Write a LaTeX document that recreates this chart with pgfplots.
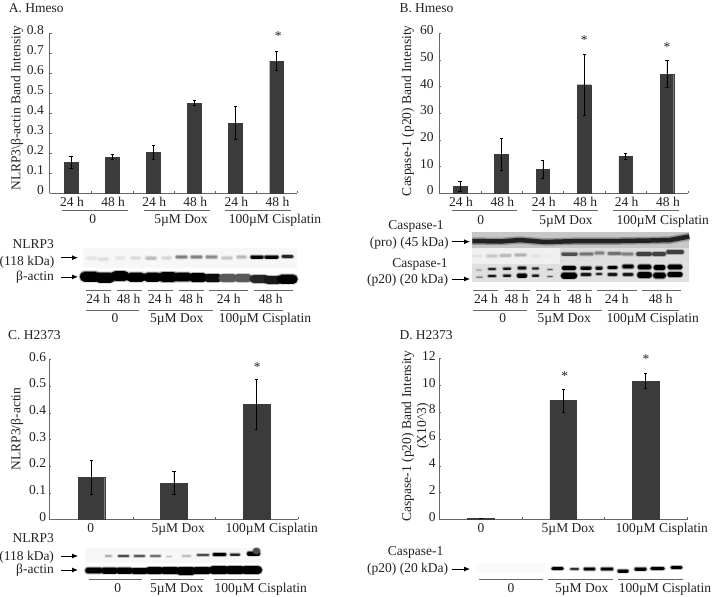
\documentclass[border=0pt]{standalone}
\usepackage{fontspec}
\setmainfont{Liberation Serif}
\usepackage{pgfplots}
\usetikzlibrary{arrows.meta}
\pgfplotsset{compat=1.18}
\definecolor{txt}{gray}{0.13}
\definecolor{barcol}{gray}{0.23}
\definecolor{axisg}{gray}{0.4}
\newcommand{\fs}{\fontsize{13.5}{15}\selectfont}
% soft western blot band: x1 x2 y thickness darkness
\newcommand{\band}[5]{%
  \addplot[forget plot, line cap=round, black!#5, opacity=0.12, line width=#4pt+2.6pt] coordinates {(#1,#3)(#2,#3)};
  \addplot[forget plot, line cap=round, black!#5, opacity=0.22, line width=#4pt+1.7pt] coordinates {(#1,#3)(#2,#3)};
  \addplot[forget plot, line cap=round, black!#5, opacity=0.4, line width=#4pt+0.8pt] coordinates {(#1,#3)(#2,#3)};
  \addplot[forget plot, line cap=round, black!#5, line width=#4pt] coordinates {(#1,#3)(#2,#3)};
}
\newcommand{\patch}[5]{%
  \addplot[forget plot, fill=black!#5, draw=none] coordinates {(#1,#3)(#2,#3)(#2,#4)(#1,#4)} --cycle;
}
\newcommand{\uline}[3]{%
  \addplot[forget plot, axisg, line width=0.7pt] coordinates {(#1,#3)(#2,#3)};
}
\newcommand{\arr}[3]{%
  \addplot[forget plot, black, line width=0.8pt, -{Latex[length=6pt,width=5pt]}] coordinates {(#1,#3)(#2,#3)};
}
% text centred on its capital height, so descenders do not move it
\newcommand{\lab}[3]{\node[text height=8.8pt, text depth=0pt] at (#1,#2) {#3};}
\pgfplotsset{
  panel/.style={
    scale only axis, anchor=south west, clip=false,
    axis lines=left, axis line style={-, axisg, line width=0.8pt},
    ymin=0, enlargelimits=false,
    major tick length=2pt, minor tick length=2pt,
    tick align=inside,
    y tick style={axisg}, major x tick style={draw=none}, minor x tick style={axisg},
    tick label style={font=\fs, text=txt},
    /pgf/number format/assume math mode=true,
    /pgf/number format/fixed,
    xtick=data,
  },
  barplot/.style={
    ybar, forget plot, fill=barcol, draw=barcol, bar width=#1,
    error bars/.cd, y dir=both, y explicit,
    error bar style={black, line width=0.6pt},
    error mark options={rotate=90, mark size=1.6pt, black, line width=0.6pt},
  },
}
\begin{document}
\begin{tikzpicture}[every node/.append style={font=\fs, text=txt, inner sep=0pt}]
\path[use as bounding box] (0,0) rectangle (713pt,-597pt);

% everything that is not a bar chart, in image pixels
\begin{axis}[scale only axis, width=713pt, height=597pt, at={(0,0)}, anchor=north west,
             xmin=0, xmax=713, ymin=0, ymax=597, y dir=reverse, hide axis, clip=false]
\node[anchor=west, text height=8.8pt, text depth=0pt] at (8.7,8) {A. Hmeso};
\node[anchor=west, text height=8.8pt, text depth=0pt] at (399.3,8) {B. Hmeso};
\node[anchor=west, text height=8.8pt, text depth=0pt] at (8,334.7) {C. H2373};
\node[anchor=west, text height=8.8pt, text depth=0pt] at (399.3,334.7) {D. H2373};

% y labels
\node[rotate=90, text height=8.8pt, text depth=0pt] at (16,108) {NLRP3\textbackslash β-actin Band Intensity};
\node[rotate=90, text height=8.8pt, text depth=0pt] at (406.7,110.7) {Caspase-1 (p20) Band Intensity};
\node[rotate=90, text height=8.8pt, text depth=0pt] at (16,429) {NLRP3/β-actin};
\node[rotate=90, text height=8.8pt, text depth=0pt] at (406.7,436) {Caspase-1 (p20) Band Intensity};
\node[rotate=90, text height=8.8pt, text depth=0pt] at (421.7,426) {(X10\^{}3)};

% stars
\node at (278.3,36) {*};
\node at (584.3,40.5) {*};
\node at (667,47) {*};
\node at (257.3,367) {*};
\node at (564.7,376) {*};
\node at (646,359.5) {*};

% group labels under charts A and B
\uline{62}{128}{210.5}\uline{144}{210}{210.5}\uline{225}{291}{210.5}
\lab{92.7}{219.5}{0}\lab{181}{219.5}{5µM Dox}\lab{275}{219.5}{100µM Cisplatin}
\uline{451.7}{516.7}{210.7}\uline{532}{598}{210.7}\uline{613.3}{679.3}{210.7}
\lab{480.7}{219.7}{0}\lab{566}{219.7}{5µM Dox}\lab{662.7}{219.7}{100µM Cisplatin}

% labels under charts C and D
\lab{90.7}{528.3}{0}\lab{178.3}{528.3}{5µM Dox}\lab{271.7}{528.3}{100µM Cisplatin}
\lab{481}{528.3}{0}\lab{568.3}{528.3}{5µM Dox}\lab{661.7}{528.3}{100µM Cisplatin}

% blot A
\patch{83}{297}{248}{268}{3}
\band{88}{95}{258}{3}{10}\band{100}{107}{259}{3}{12}\band{117}{123}{258}{3}{10}\band{132}{139}{258}{2.5}{14}
\band{147}{155}{258}{3}{25}\band{163}{170}{258}{2.5}{16}\band{177}{186}{257}{2.5}{50}\band{192}{201}{257}{2.5}{50}
\band{207}{216}{257}{2.5}{45}\band{223}{231}{258}{2.5}{22}\band{238}{245}{257}{2.5}{28}\band{252}{262}{257}{3}{100}
\band{266}{277}{257}{3}{100}\band{283}{292}{256.5}{2.5}{85}
\band{85}{95}{276.5}{10}{100}\band{100}{110}{277.5}{10}{100}\band{116}{124}{276}{10}{100}\band{131}{141}{277}{9}{100}
\band{148}{157}{277}{9}{100}\band{163}{173}{277}{10}{100}\band{178}{188}{277}{8.5}{100}\band{193}{203}{277.5}{8.5}{100}
\band{208}{218}{278}{8}{95}\band{223}{233}{278}{8}{65}\band{238}{248}{278}{8}{65}\band{254}{265}{279}{8}{85}
\band{268}{278}{280}{8}{90}\band{282}{293}{279}{9}{100}
\lab{33.3}{244}{NLRP3}\lab{27}{260.7}{(118 kDa)}\lab{35}{276}{β-actin}
\arr{61}{78}{257.7}\arr{61}{78}{276.9}
\uline{86}{110.7}{290}\uline{117.3}{142}{290}\uline{148.3}{173}{290}\uline{179.3}{204}{290}\uline{209.3}{248.3}{290}\uline{254}{292.7}{290}
\lab{98.3}{299}{24 h}\lab{128.7}{299}{48 h}\lab{160}{299}{24 h}\lab{191.3}{299}{48 h}\lab{228.7}{299}{24 h}\lab{270.7}{299}{48 h}
\uline{86}{138.7}{310}\uline{148}{213}{310}\uline{220}{283}{310}
\lab{115}{318.3}{0}\lab{176.7}{318.3}{5µM Dox}\lab{265}{318.3}{100µM Cisplatin}

% blot B
\patch{472.3}{689.3}{231.7}{248}{22}
\patch{472.3}{689.3}{248}{262}{13}
\patch{472.3}{689.3}{262}{281.7}{12}
\patch{472.3}{560}{248}{264}{6}
\addplot[forget plot, black!85, line width=4.5pt] coordinates {(472.3,241)(500,241.5)(520,240)(545,242)(580,241)(620,241)(650,240.5)(670,240)(689.3,236.5)};
\addplot[forget plot, black!90, opacity=0.3, line width=7.5pt] coordinates {(472.3,241)(500,241.5)(520,240)(545,242)(580,241)(620,241)(650,240.5)(670,240)(689.3,236.5)};
\band{474}{481}{256}{2}{12}\band{488}{496}{256}{2.5}{22}\band{501}{510}{255.5}{2.5}{26}\band{516}{525}{255}{2.5}{30}
\band{532}{540}{256}{2}{12}\band{546}{553}{256}{2}{8}\band{563}{576}{254}{3}{70}\band{581}{592}{254}{2.5}{55}
\band{596}{603}{253}{2.5}{50}\band{609}{620}{253.5}{2.5}{55}\band{623}{632}{254}{2.5}{50}\band{638}{650}{254}{3.5}{75}
\band{654}{664}{254}{3.5}{75}\band{668}{682}{252}{3.5}{75}
\band{477}{481}{270}{1}{35}\band{489}{495}{269}{1.5}{85}\band{504}{510}{268.5}{2}{90}\band{519}{525}{268}{2.5}{95}
\band{533}{538}{268.5}{1.5}{90}\band{548}{552}{269.5}{1}{65}\band{564}{574}{268}{4}{100}\band{582}{590}{268}{3}{100}
\band{597}{601}{268}{3}{95}\band{609}{616}{267.5}{3}{100}\band{624}{632}{266.5}{3.5}{100}\band{640}{649}{267}{4.5}{100}
\band{656}{663}{267.5}{4.5}{100}\band{670}{680}{267}{4.5}{100}
\band{477}{482}{277}{1}{50}\band{489}{495}{276}{2}{90}\band{504}{510}{275.5}{2}{90}\band{519}{525}{275.5}{4}{100}
\band{533}{538}{275.5}{2}{90}\band{548}{552}{276.5}{1}{65}\band{564}{574}{275.5}{6}{100}\band{582}{590}{274.5}{2.5}{90}
\band{597}{601}{274}{2}{85}\band{609}{616}{274.5}{2.5}{90}\band{624}{632}{274.5}{2.5}{90}\band{640}{649}{275}{5.5}{100}
\band{656}{663}{275.5}{5.5}{100}\band{670}{680}{274.5}{5}{100}
\lab{416}{225}{Caspase-1}\lab{409.3}{242.3}{(pro) (45 kDa)}\lab{420}{262.7}{Caspase-1}\lab{407.7}{279}{(p20) (20 kDa)}
\arr{451.7}{470}{241.7}\arr{451.7}{470}{279}
\uline{473.3}{498.3}{290}\uline{505}{530}{290}\uline{536}{561}{290}\uline{567.3}{592.3}{290}\uline{597.3}{636.7}{290}\uline{641.7}{680.7}{290}
\lab{486}{299}{24 h}\lab{516.7}{299}{48 h}\lab{548.3}{299}{24 h}\lab{580}{299}{48 h}\lab{616.7}{299}{24 h}\lab{660.7}{299}{48 h}
\uline{473.3}{526.7}{310}\uline{536}{601.7}{310}\uline{608.3}{679.3}{310}
\lab{502.7}{318.3}{0}\lab{564.3}{318.3}{5µM Dox}\lab{652.7}{318.3}{100µM Cisplatin}

% blot C
\patch{85}{262}{548}{563}{3}
\band{106}{111}{556}{1.5}{30}\band{119}{128}{556}{2}{70}\band{135}{144}{556}{2}{65}\band{151}{160}{556}{1.5}{55}
\band{167}{171}{556.5}{1}{25}\band{183}{190}{556}{1.5}{25}\band{198}{208}{555}{2}{70}\band{214}{225}{554.5}{2.5}{100}
\band{231}{239}{554.5}{2}{85}\band{249}{258}{553.5}{4}{100}\band{256}{257}{551}{6}{70}
\band{88}{100}{570.5}{5.5}{100}\band{104}{115}{570.5}{6}{100}\band{119}{130}{570.5}{6}{100}\band{134}{145}{571}{6}{100}
\band{149}{160}{570.5}{7}{100}\band{164}{176}{570.5}{7}{100}\band{180}{192}{571}{7.5}{100}\band{196}{208}{570.5}{7}{100}
\band{213}{225}{570}{8}{100}\band{229}{241}{570}{8}{100}\band{245}{258}{570}{8}{100}
\lab{33.3}{538.3}{NLRP3}\lab{26.7}{555.7}{(118 kDa)}\lab{35}{569}{β-actin}
\arr{61}{78}{556}\arr{61}{78}{570}
\uline{89}{141.7}{579.3}\uline{151}{204}{579.3}\uline{214.3}{260}{579.3}
\lab{117.7}{588.3}{0}\lab{176.7}{588.3}{5µM Dox}\lab{260.7}{588.3}{100µM Cisplatin}

% blot D
\patch{475}{545}{563}{573}{2}
\band{553}{562}{568.5}{3}{100}\band{571}{578}{569}{1.5}{80}\band{585}{594}{569}{2.5}{100}\band{602}{612}{569}{2.5}{100}
\band{619}{627}{571}{3}{100}\band{636}{645}{569}{3}{100}\band{652}{663}{568.5}{3}{100}\band{672}{681}{567.5}{2.5}{100}
\lab{415.7}{551}{Caspase-1}\lab{407.7}{568.3}{(p20) (20 kDa)}
\arr{451.7}{470}{569}
\uline{479}{542.7}{579.7}\uline{548.3}{613.3}{579.7}\uline{618.3}{682.7}{579.7}
\lab{511}{588.3}{0}\lab{581.7}{588.3}{5µM Dox}\lab{665}{588.3}{100µM Cisplatin}
\end{axis}

% A
\begin{axis}[panel, at={(49.5pt,-193pt)}, width=247.5pt, height=160pt,
             xmin=0.476, xmax=6.5, ymax=0.8, ytick={0,0.1,...,0.8},
             /pgf/number format/precision=1,
             minor xtick={1.5,2.5,3.5,4.5,5.5,6.5},
             xticklabels={24 h,48 h,24 h,48 h,24 h,48 h},
             yticklabel style={xshift=-5.5pt, yshift=2.5pt}, xticklabel style={xshift=1pt, yshift=-4pt}]
\addplot[barplot=13.5pt] coordinates {
  (1,0.155) +- (0,0.03)
  (2,0.18)  +- (0,0.012)
  (3,0.205) +- (0,0.036)
  (4,0.45)  +- (0,0.012)
  (5,0.35)  +- (0,0.082)
  (6,0.66)  +- (0,0.047)};
\end{axis}

% B
\begin{axis}[panel, at={(439.3pt,-193pt)}, width=248.4pt, height=160pt,
             xmin=0.5, xmax=6.5, ymax=60, ytick={0,10,...,60},
             minor xtick={1.5,2.5,3.5,4.5,5.5,6.5},
             xticklabels={24 h,48 h,24 h,48 h,24 h,48 h},
             yticklabel style={xshift=-5.5pt, yshift=2.5pt}, xticklabel style={xshift=1pt, yshift=-4pt}]
\addplot[barplot=13.5pt] coordinates {
  (1,2.4)  +- (0,1.9)
  (2,14.5) +- (0,5.9)
  (3,9)    +- (0,3.4)
  (4,40.6) +- (0,11.3)
  (5,13.8) +- (0,1)
  (6,44.6) +- (0,5)};
\end{axis}

% C
\begin{axis}[panel, at={(49.3pt,-519.3pt)}, width=248.4pt, height=160pt,
             xmin=0.49, xmax=3.5, ymax=0.6, ytick={0,0.1,...,0.6},
             /pgf/number format/precision=1,
             minor xtick={1.5,2.5,3.5}, xticklabels={},
             yticklabel style={xshift=-3pt, yshift=2.5pt}]
\addplot[barplot=26.7pt] coordinates {
  (1,0.1575) +- (0,0.064)
  (2,0.136)  +- (0,0.044)
  (3,0.43)   +- (0,0.094)};
\end{axis}

% D
\begin{axis}[panel, at={(439.3pt,-519.3pt)}, width=249pt, height=161pt,
             xmin=0.494, xmax=3.52, ymax=12, ytick={0,2,...,12},
             minor xtick={1.5,2.5,3.5}, xticklabels={},
             yticklabel style={xshift=-3.5pt, yshift=2.5pt}]
\addplot[barplot=26.7pt] coordinates {
  (1,0.07) +- (0,0.03)
  (2,8.85) +- (0,0.86)
  (3,10.3) +- (0,0.55)};
\end{axis}
\end{tikzpicture}
\end{document}
